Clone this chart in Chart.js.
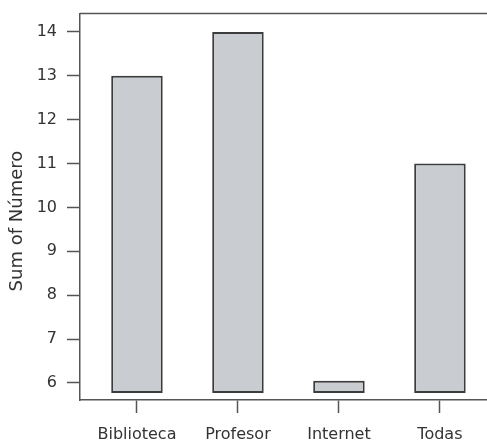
<!DOCTYPE html>
<html>
<head>
<meta charset="utf-8">
<script src="https://cdn.jsdelivr.net/npm/chart.js@4.4.1/dist/chart.umd.min.js"></script>
<style>
    html, body { margin: 0; padding: 0; background: #fff; overflow: hidden; }
    #box { width: 487px; height: 442px; }
</style>
</head>
<body>
<div id="box"><canvas id="myChart"></canvas></div>
<script>
// values
const categories = ['Biblioteca', 'Profesor', 'Internet', 'Todas'];
const sums = [13, 14, 6.05, 11];
const yTicks = [6, 7, 8, 9, 10, 11, 12, 13, 14];

const axisColor = '#555555';
const textColor = '#333333';

// top frame line of the plot box
const topLine = {
    id: 'topLine',
    afterDraw: function (chart) {
        const a = chart.chartArea;
        const c = chart.ctx;
        c.save();
        c.strokeStyle = axisColor;
        c.lineWidth = 1.5;
        c.beginPath();
        c.moveTo(a.left, a.top);
        c.lineTo(a.right, a.top);
        c.stroke();
        c.restore();
    }
};

const ctx = document.getElementById('myChart');
const myChart = new Chart(ctx, {
    type: 'bar',
    data: {
        datasets: [{
            data: categories.map((c, i) => ({ x: i, y: sums[i] })),
            base: 5.77,
            backgroundColor: '#c9ccd1',
            borderColor: '#3c3c3c',
            borderWidth: 2,
            borderSkipped: false,
            barPercentage: 0.51,
            categoryPercentage: 1.0
        }]
    },
    plugins: [topLine],
    options: {
        responsive: true,
        maintainAspectRatio: false,
        animation: false,
        layout: { padding: { top: 13.5, left: 0, right: 0, bottom: 0 } },
        plugins: {
            legend: { display: false },
            tooltip: { enabled: false }
        },
        scales: {
            x: {
                type: 'linear',
                offset: false,
                min: -0.564,
                max: 3.466,
                afterFit: function (scale) {
                    scale.height = 42;
                    scale.paddingLeft = 0;
                    scale.paddingRight = 0;
                },
                afterBuildTicks: function (scale) {
                    scale.ticks = categories.map((c, i) => ({ value: i }));
                },
                grid: {
                    display: true,
                    offset: false,
                    drawOnChartArea: false,
                    drawTicks: true,
                    tickLength: 13,
                    tickWidth: 1.5,
                    tickColor: axisColor
                },
                border: { display: true, color: axisColor, width: 1.5 },
                ticks: {
                    autoSkip: false,
                    maxRotation: 0,
                    padding: 12,
                    color: textColor,
                    font: { family: 'DejaVu Sans', size: 16 },
                    callback: function (v) { return categories[v]; }
                }
            },
            y: {
                min: 5.61,
                max: 14.42,
                afterFit: function (scale) {
                    scale.width = 80;
                    scale.paddingTop = 0;
                    scale.paddingBottom = 0;
                },
                afterBuildTicks: function (scale) {
                    scale.ticks = yTicks.map(v => ({ value: v }));
                },
                grid: {
                    display: true,
                    drawOnChartArea: false,
                    drawTicks: true,
                    tickLength: 13,
                    tickWidth: 1.5,
                    tickColor: axisColor
                },
                border: { display: true, color: axisColor, width: 1.5 },
                ticks: {
                    padding: 10,
                    color: textColor,
                    font: { family: 'DejaVu Sans', size: 16 }
                },
                title: {
                    display: true,
                    text: 'Sum of Número\u00a0\u00a0\u00a0\u00a0\u00a0',
                    color: textColor,
                    padding: { top: 7, bottom: 0 },
                    font: { family: 'DejaVu Sans', size: 18 }
                }
            }
        }
    }
});
</script>
</body>
</html>
